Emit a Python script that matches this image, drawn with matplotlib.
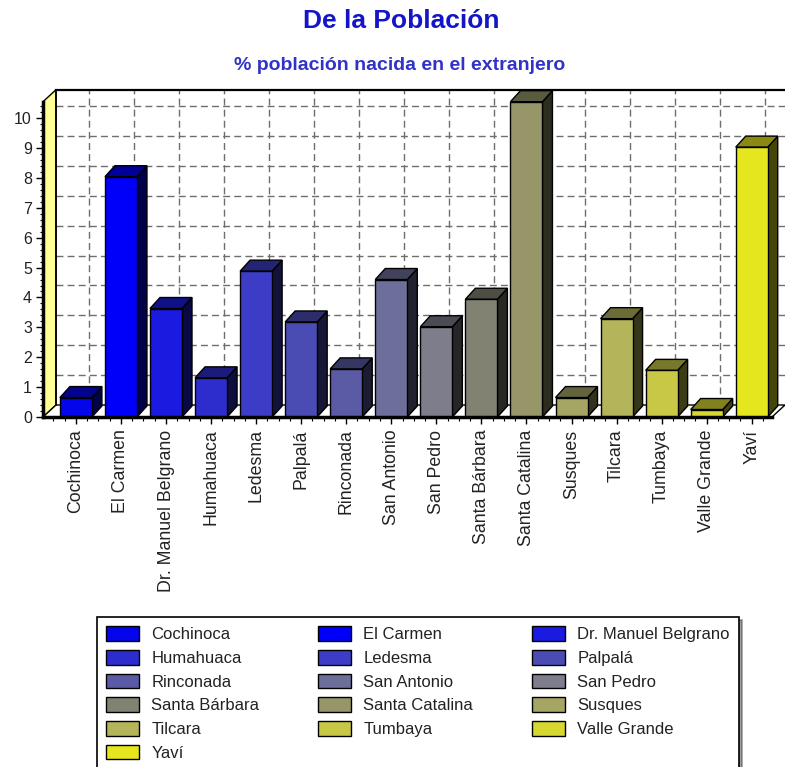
import matplotlib
matplotlib.use("Agg")
import matplotlib.pyplot as plt
from matplotlib.patches import Polygon, Patch
from matplotlib.ticker import MultipleLocator, FixedLocator
import numpy as np

plt.rcParams['font.family'] = ['Liberation Sans', 'DejaVu Sans']

categories = ["Cochinoca", "El Carmen", "Dr. Manuel Belgrano", "Humahuaca", "Ledesma",
              "Palpalá", "Rinconada", "San Antonio", "San Pedro", "Santa Bárbara",
              "Santa Catalina", "Susques", "Tilcara", "Tumbaya", "Valle Grande", "Yaví"]
values = [0.65, 8.04, 3.63, 1.31, 4.88, 3.18, 1.61, 4.60, 3.02, 3.94,
          10.55, 0.65, 3.29, 1.56, 0.25, 9.03]
colors = ["#0505eb", "#0000fa", "#1a1ae1", "#2d2dcd", "#3c3cc6", "#4b4bb4",
          "#5a5aa5", "#6e6e9b", "#7d7d8c", "#828273", "#969669", "#a5a564",
          "#b4b45a", "#c8c846", "#d7d732", "#e6e61e"]
y_ticks = list(range(0, 11))

title = "De la Población"
subtitle = "% población nacida en el extranjero"

W, H = 785, 767
fig = plt.figure(figsize=(W / 100, H / 100), dpi=100)

# front plane in pixel space
px_left, px_right, px_bottom, px_top = 43, 772, 417, 101.7
ax = fig.add_axes([px_left / W, 1 - px_bottom / H, (px_right - px_left) / W, (px_bottom - px_top) / H])
ax.set_facecolor('none')
xl, xr = -0.73, 15.45
ymax = 10.55
ax.set_xlim(xl, xr)
ax.set_ylim(0, ymax)

xunit = (px_right - px_left) / (xr - xl)
yunit = (px_bottom - px_top) / ymax
wdx, wdy = 13 / xunit, 12 / yunit     # wall depth
bdx, bdy = 10 / xunit, 11 / yunit     # bar depth
bw = 32 / xunit

# back wall
ax.add_patch(Polygon([(xl + wdx, wdy), (xr + wdx + 1, wdy), (xr + wdx + 1, ymax + wdy), (xl + wdx, ymax + wdy)],
                     closed=True, facecolor='white', edgecolor='none', zorder=0.5, clip_on=False))
ax.plot([xl + wdx, xr + wdx + 1], [ymax + wdy, ymax + wdy], color='black', lw=1.6, clip_on=False, zorder=2)
ax.plot([xl + wdx, xl + wdx], [wdy, ymax + wdy], color='black', lw=1.2, clip_on=False, zorder=2)

# dashed grid on back wall
grid_kw = dict(color='#6e6e6e', lw=1.0, linestyle=(0, (5, 3)), clip_on=False, zorder=1)
for k in y_ticks[1:]:
    ax.plot([xl + wdx, xr + wdx + 1], [k + wdy, k + wdy], **grid_kw)
for i in range(len(categories)):
    ax.plot([i + wdx, i + wdx], [wdy, ymax + wdy], **grid_kw)

# left wall (yellow)
ax.add_patch(Polygon([(xl, 0), (xl + wdx, wdy), (xl + wdx, ymax + wdy), (xl, ymax)],
                     closed=True, facecolor='#ffff96', edgecolor='black', lw=1.0, zorder=1.5, clip_on=False))
# floor
ax.add_patch(Polygon([(xl, 0), (xr, 0), (xr + wdx, wdy), (xl + wdx, wdy)],
                     closed=True, facecolor='white', edgecolor='black', lw=1.0, zorder=1.6, clip_on=False))

# bars
def shade(c, f):
    r, g, b = matplotlib.colors.to_rgb(c)
    return (r * f, g * f, b * f)

x = np.arange(len(categories))
for i, (v, c) in enumerate(zip(values, colors)):
    x0 = i - bw / 2
    x1 = i + bw / 2
    ax.add_patch(Polygon([(x1, 0), (x1 + bdx, bdy), (x1 + bdx, v + bdy), (x1, v)], closed=True,
                         facecolor=shade(c, 0.3), edgecolor='black', lw=1.0, zorder=3, clip_on=False))
    ax.add_patch(Polygon([(x0, v), (x0 + bdx, v + bdy), (x1 + bdx, v + bdy), (x1, v)], closed=True,
                         facecolor=shade(c, 0.6), edgecolor='black', lw=1.0, zorder=3, clip_on=False))
ax.bar(x, values, width=bw, color=colors, edgecolor='black', linewidth=1.0, zorder=4, clip_on=False)

# spines / axes
for s in ['top', 'right']:
    ax.spines[s].set_visible(False)
ax.spines['left'].set_linewidth(2.5)
ax.spines['bottom'].set_linewidth(2.5)
ax.spines['left'].set_zorder(5)
ax.spines['bottom'].set_zorder(5)

ax.yaxis.set_major_locator(FixedLocator(y_ticks))
ax.yaxis.set_minor_locator(MultipleLocator(0.2))
ax.set_yticklabels([str(t) for t in y_ticks])
ax.tick_params(axis='y', which='major', length=5, width=1, direction='out', labelsize=11.5, labelcolor='#222222', pad=3)
ax.tick_params(axis='y', which='minor', length=2.5, width=0.8, direction='out')

ax.set_xticks(x)
ax.set_xticklabels(categories, rotation=90, fontsize=12.8, color='#222222')
ax.xaxis.set_minor_locator(FixedLocator(np.arange(-0.5, len(categories), 0.25)))
ax.tick_params(axis='x', which='major', length=5, width=1, direction='out', pad=4)
ax.tick_params(axis='x', which='minor', length=3, width=0.8, direction='out')

# titles
fig.text(401 / W, 1 - 21 / H, title, ha='center', va='center', fontsize=19, fontweight='bold', color='#1414c8')
fig.text(400 / W, 1 - 66 / H, subtitle, ha='center', va='center', fontsize=14, fontweight='bold', color='#3232c8')

# legend, filled row by row (3 columns)
ncol = 3
order = [i for c in range(ncol) for i in range(c, len(categories), ncol)]
handles = [Patch(facecolor=colors[i], edgecolor='black', linewidth=1.0) for i in order]
labels = [categories[i] for i in order]
leg = fig.legend(handles, labels, ncol=ncol, loc='upper left', bbox_to_anchor=(97 / W, 1 - 617 / H),
                 fontsize=12, frameon=True, fancybox=False, shadow={'color': '0.25'},
                 handlelength=1.95, handleheight=1.0, handletextpad=0.75, columnspacing=3.55,
                 labelspacing=0.45, borderpad=0.55, borderaxespad=0)
leg.get_frame().set_edgecolor('black')
leg.get_frame().set_linewidth(1.2)
for t in leg.get_texts():
    t.set_color('#222222')

fig.savefig('out.png', dpi=100)
